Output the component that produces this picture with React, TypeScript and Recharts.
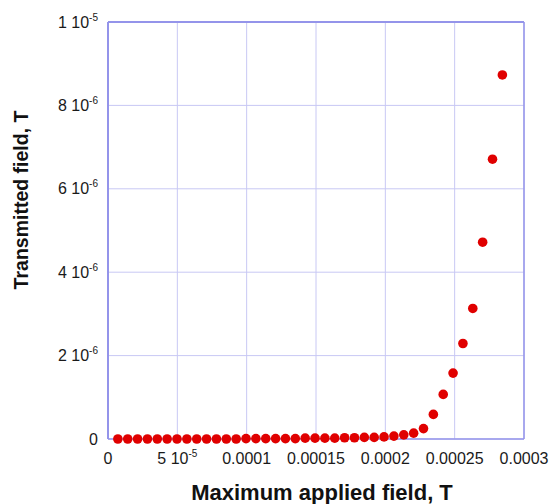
import { ScatterChart, Scatter, XAxis, YAxis, CartesianGrid, ReferenceLine } from "recharts";

// applied field (T)
const appliedField = [
  7.11e-6, 1.422e-5, 2.133e-5, 2.844e-5, 3.555e-5, 4.266e-5, 4.977e-5, 5.688e-5, 6.399e-5, 7.11e-5,
  7.821e-5, 8.532e-5, 9.243e-5, 9.954e-5, 1.0665e-4, 1.1376e-4, 1.2087e-4, 1.2798e-4, 1.3509e-4, 1.422e-4,
  1.4931e-4, 1.5642e-4, 1.6353e-4, 1.7064e-4, 1.7775e-4, 1.8486e-4, 1.9197e-4, 1.9908e-4, 2.0619e-4, 2.133e-4,
  2.2041e-4, 2.2752e-4, 2.3463e-4, 2.4174e-4, 2.4885e-4, 2.5596e-4, 2.6307e-4, 2.7018e-4, 2.7729e-4, 2.844e-4,
];

// transmitted field (T)
const transmitted = [
  0, 0, 0, 0, 0, 0, 0, 0, 0, 0,
  0, 0, 0, 1e-8, 1e-8, 1e-8, 1e-8, 1e-8, 1e-8, 2e-8,
  2e-8, 2e-8, 2e-8, 3e-8, 3e-8, 4e-8, 4e-8, 5e-8, 7e-8, 1.0e-7,
  1.4e-7, 2.5e-7, 5.9e-7, 1.07e-6, 1.58e-6, 2.29e-6, 3.13e-6, 4.72e-6, 6.71e-6, 8.73e-6,
];

const xTicks = [0, 5e-5, 1e-4, 1.5e-4, 2e-4, 2.5e-4, 3e-4];
const xTickLabels = ["0", "5 10^-5", "0.0001", "0.00015", "0.0002", "0.00025", "0.0003"];
const yTicks = [0, 2e-6, 4e-6, 6e-6, 8e-6, 1e-5];
const yTickLabels = ["0", "2 10^-6", "4 10^-6", "6 10^-6", "8 10^-6", "1 10^-5"];

const data = appliedField.map((x, i) => ({ x, y: transmitted[i] }));

const FONT = "'Liberation Sans', Arial, sans-serif";
const FRAME = "#9494ea";
const GRID = "#c8c8f4";

function Label({ text, ...rest }: any) {
  const [base, exp] = text.split("^");
  return (
    <text {...rest} fontFamily={FONT} fontSize={16} fill="#1a1a1a">
      <tspan>{base}</tspan>
      {exp && (
        <tspan dy={-7} fontSize={10}>
          {exp}
        </tspan>
      )}
    </text>
  );
}

function XTick({ x, y, payload }: any) {
  const i = xTicks.indexOf(payload.value);
  return <Label text={xTickLabels[i] ?? ""} x={x} y={y + 25} textAnchor="middle" />;
}

function YTick({ x, y, payload }: any) {
  const i = yTicks.indexOf(payload.value);
  return <Label text={yTickLabels[i] ?? ""} x={x - 10} y={y + 5.5} textAnchor="end" />;
}

const Dot = (props: any) => <circle cx={props.cx} cy={props.cy} r={4.8} fill="#e00000" />;

export default function App() {
  return (
    <div style={{ position: "absolute", left: 0, top: 0, background: "#fff" }}>
      <ScatterChart width={557} height={504} margin={{ top: 22, right: 33, left: 0, bottom: 0 }}>
        <CartesianGrid stroke={GRID} strokeWidth={1} />
        <XAxis
          type="number"
          dataKey="x"
          domain={[0, 3e-4]}
          ticks={xTicks}
          tick={<XTick />}
          tickSize={0}
          tickMargin={0}
          height={65}
          axisLine={{ stroke: FRAME, strokeWidth: 1.5 }}
          interval={0}
        />
        <YAxis
          type="number"
          dataKey="y"
          domain={[0, 1e-5]}
          ticks={yTicks}
          tick={<YTick />}
          tickSize={0}
          tickMargin={0}
          width={108}
          axisLine={{ stroke: FRAME, strokeWidth: 2 }}
          interval={0}
        />
        <ReferenceLine y={1e-5} stroke={FRAME} strokeWidth={2} />
        <ReferenceLine x={3e-4} stroke={FRAME} strokeWidth={1.5} />
        <Scatter data={data} shape={<Dot />} isAnimationActive={false} />
        <text x={322} y={500} textAnchor="middle" fontFamily={FONT} fontSize={22} fontWeight="bold" fill="#111">
          Maximum applied field, T
        </text>
        <text
          x={28}
          y={200}
          textAnchor="middle"
          transform="rotate(-90 28 200)"
          fontFamily={FONT}
          fontSize={19.5}
          fontWeight="bold"
          fill="#111"
        >
          Transmitted field, T
        </text>
      </ScatterChart>
    </div>
  );
}
